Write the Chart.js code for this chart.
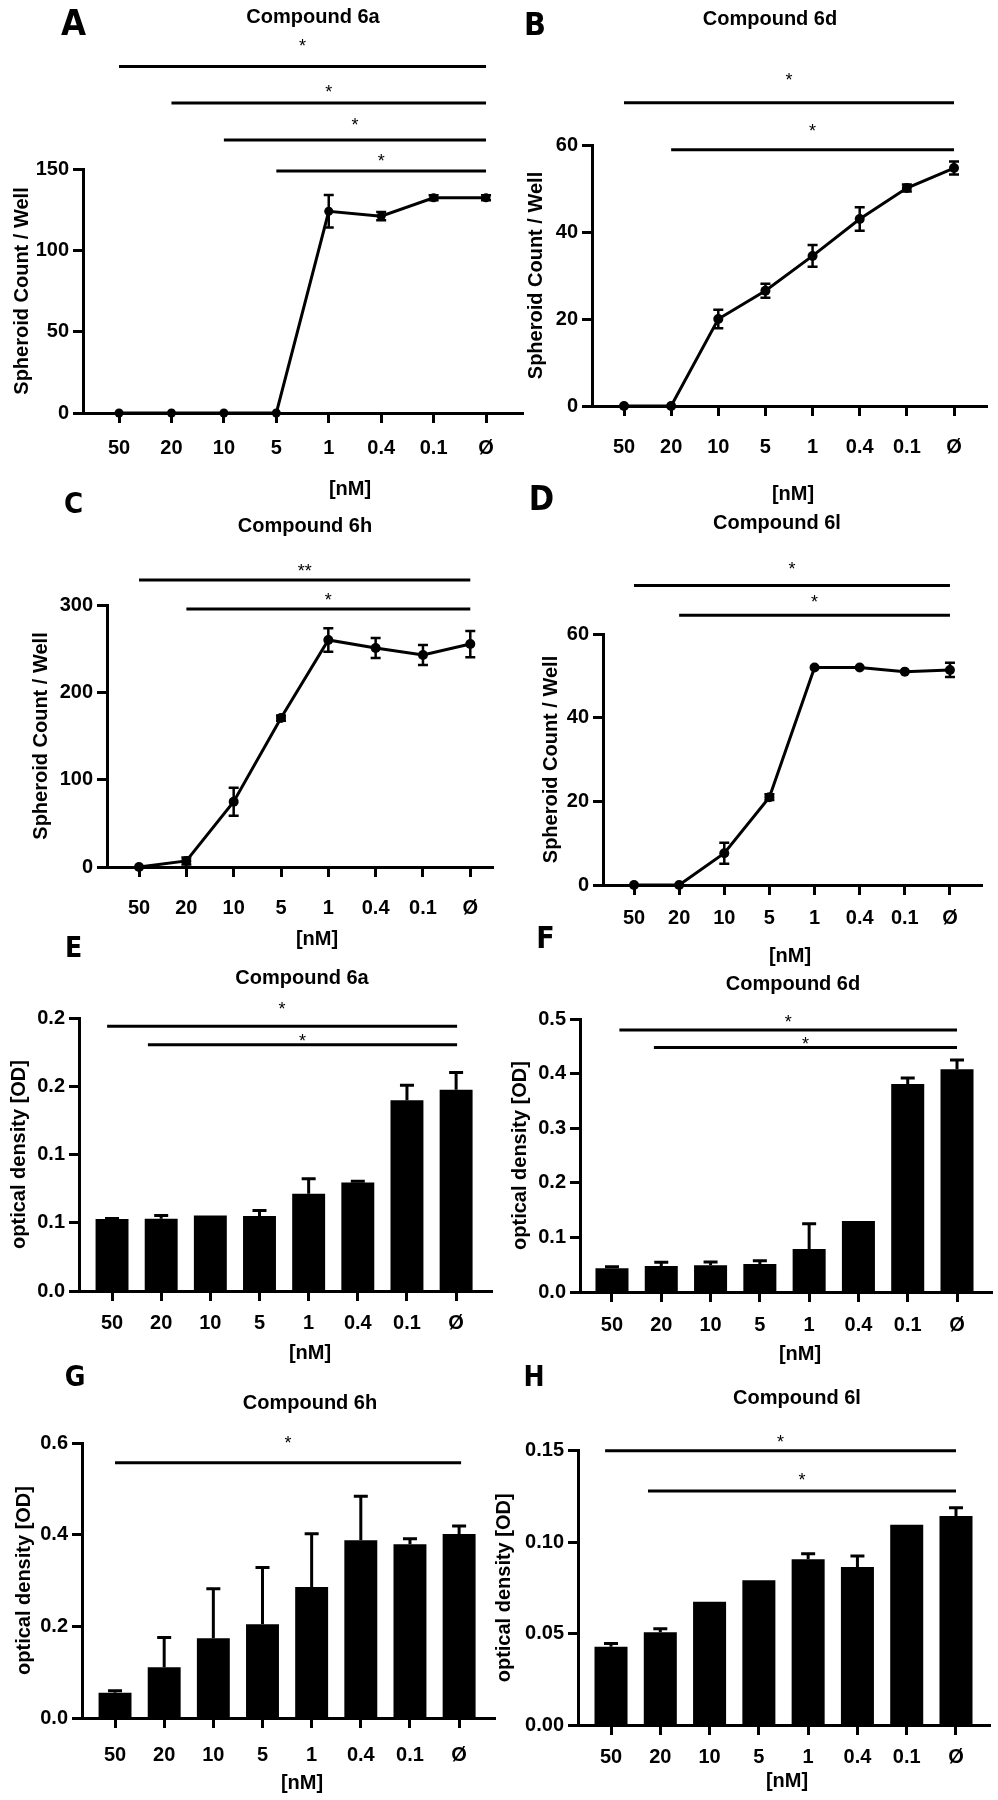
<!DOCTYPE html>
<html>
<head>
<meta charset="utf-8">
<script src="https://cdn.jsdelivr.net/npm/chart.js@4.4.1/dist/chart.umd.min.js"></script>
<style>
  html, body { margin: 0; padding: 0; background: #fff; }
  #figure { position: relative; width: 998px; height: 1800px; overflow: hidden; background: #fff; }
  #figure canvas { position: absolute; }
  .cap {
    position: absolute; transform: translate(-50%, -50%);
    line-height: 1; white-space: nowrap; color: #000;
    font-family: 'Liberation Sans', Arial, sans-serif; font-weight: bold; font-size: 20px;
  }
  .letter { font-family: 'Liberation Sans Narrow', 'DejaVu Sans Condensed', sans-serif; font-stretch: condensed; }
</style>
</head>
<body>
<div id="figure"></div>
<script>
const doses = ['50', '20', '10', '5', '1', '0.4', '0.1', 'Ø'];

// spheroid counts (mean and SD), panels A-D
const countA = [0, 0, 0, 0, 124, 121, 132.3, 132.3];
const countErrA = [0, 0, 0, 0, 10, 2.5, 1.5, 1.5];
const countB = [0, 0, 20, 26.5, 34.5, 43, 50.1, 54.7];
const countErrB = [0, 0, 2.1, 1.6, 2.5, 2.7, 0.8, 1.5];
const countC = [0, 7, 74.8, 170.6, 260, 250.7, 242.7, 255.3];
const countErrC = [0, 4, 16, 3, 13.5, 11.5, 11.5, 15];
const countD = [0, 0, 7.6, 21, 52, 52, 51, 51.4];
const countErrD = [0, 0, 2.5, 0.7, 0, 0, 0, 1.7];

// optical density (mean and SD), panels E-H
const odE = [0.0527, 0.053, 0.0554, 0.055, 0.0713, 0.0794, 0.1397, 0.1475];
const odErrE = [0.0005, 0.0024, 0, 0.004, 0.011, 0.001, 0.011, 0.0125];
const odF = [0.0434, 0.0476, 0.049, 0.0513, 0.0788, 0.13, 0.381, 0.408];
const odErrF = [0.003, 0.0067, 0.006, 0.006, 0.046, 0, 0.011, 0.017];
const odG = [0.0553, 0.1106, 0.174, 0.2044, 0.2858, 0.388, 0.379, 0.4015];
const odErrG = [0.004, 0.065, 0.108, 0.124, 0.116, 0.096, 0.012, 0.0175];
const odH = [0.0428, 0.0507, 0.0674, 0.0791, 0.0906, 0.0864, 0.1095, 0.1143];
const odErrH = [0.0018, 0.002, 0, 0, 0.003, 0.006, 0, 0.0045];

// y ticks and their printed labels
const ticksA = [0, 50, 100, 150];
const ticksB = [0, 20, 40, 60];
const ticksC = [0, 100, 200, 300];
const ticksD = [0, 20, 40, 60];
const ticksE = [0, 0.05, 0.1, 0.15, 0.2];
const tickLabelsE = ['0.0', '0.1', '0.1', '0.2', '0.2'];
const ticksF = [0, 0.1, 0.2, 0.3, 0.4, 0.5];
const tickLabelsF = ['0.0', '0.1', '0.2', '0.3', '0.4', '0.5'];
const ticksG = [0, 0.2, 0.4, 0.6];
const tickLabelsG = ['0.0', '0.2', '0.4', '0.6'];
const ticksH = [0, 0.05, 0.1, 0.15];
const tickLabelsH = ['0.00', '0.05', '0.10', '0.15'];

// significance brackets: [from dose idx, to dose idx, bar level, mark level, mark]
const sigA = [[0, 7, 213, 228, '*'], [1, 7, 190.5, 199.7, '*'], [2, 7, 167.8, 179.5, '*'], [3, 7, 148.7, 157.3, '*']];
const sigB = [[0, 7, 69.7, 75.9, '*'], [1, 7, 58.9, 64.1, '*']];
const sigC = [[0, 7, 328.6, 343.5, '**'], [1, 7, 295.4, 310.3, '*']];
const sigD = [[0, 7, 71.6, 76.5, '*'], [1, 7, 64.5, 68.6, '*']];
const sigE = [[-0.1, 7.02, 0.194, 0.2095, '*'], [0.73, 7.02, 0.1804, 0.186, '*']];
const sigF = [[0.15, 7, 0.48, 0.502, '*'], [0.85, 7, 0.448, 0.4615, '*']];
const sigG = [[0, 7.04, 0.557, 0.609, '*']];
const sigH = [[-0.12, 7, 0.15, 0.157, '*'], [0.75, 7, 0.128, 0.1361, '*']];

const FONT = "'Liberation Sans', Arial, sans-serif";
const fig = document.getElementById('figure');

const errorBars = {
  id: 'errorBars',
  afterDatasetsDraw(chart, args, opts) {
    const { ctx, scales: { x, y } } = chart;
    const pts = chart.data.datasets[0].data;
    const half = opts.cap / 2;
    ctx.save();
    ctx.strokeStyle = '#000';
    ctx.lineWidth = opts.width;
    pts.forEach((p, i) => {
      const e = opts.errors[i];
      if (!e) return;
      const px = x.getPixelForValue(p.x);
      const hi = y.getPixelForValue(p.y + e);
      const lo = y.getPixelForValue(opts.upperOnly ? p.y : p.y - e);
      ctx.beginPath();
      ctx.moveTo(px, lo);
      ctx.lineTo(px, hi);
      ctx.moveTo(px - half, hi);
      ctx.lineTo(px + half, hi);
      if (!opts.upperOnly) {
        ctx.moveTo(px - half, lo);
        ctx.lineTo(px + half, lo);
      }
      ctx.stroke();
    });
    ctx.restore();
  }
};

const sigBars = {
  id: 'sigBars',
  afterDraw(chart, args, opts) {
    const { ctx, scales: { x, y } } = chart;
    ctx.save();
    ctx.strokeStyle = '#000';
    ctx.fillStyle = '#000';
    ctx.lineWidth = 3;
    ctx.font = `18px ${FONT}`;
    ctx.textAlign = 'center';
    ctx.textBaseline = 'alphabetic';
    opts.bars.forEach(([from, to, level, markLevel, mark]) => {
      const x0 = x.getPixelForValue(from);
      const x1 = x.getPixelForValue(to);
      const py = y.getPixelForValue(level);
      ctx.beginPath();
      ctx.moveTo(x0, py);
      ctx.lineTo(x1, py);
      ctx.stroke();
      ctx.fillText(mark, (x0 + x1) / 2, y.getPixelForValue(markLevel) + 10);
    });
    ctx.restore();
  }
};

// layout: box = canvas [x, y, w, h]; area = plot area [left, top, right, bottom] in page px
const panels = [
  { type: 'line', values: countA, errors: countErrA, yTicks: ticksA, yLabels: ticksA.map(String), sig: sigA,
    yTitle: 'Spheroid Count / Well', box: [0, 0, 545, 470], area: [83, 169, 523, 413],
    xRange: [-0.687, 7.705], yTitlePad: 10, xTickPad: 13, pointRadius: 4.5 },
  { type: 'line', values: countB, errors: countErrB, yTicks: ticksB, yLabels: ticksB.map(String), sig: sigB,
    yTitle: 'Spheroid Count / Well', box: [499, 0, 499, 470], area: [592, 145, 987, 406],
    xRange: [-0.679, 7.70], yTitlePad: 25, xTickPad: 19, pointRadius: 5 },
  { type: 'line', values: countC, errors: countErrC, yTicks: ticksC, yLabels: ticksC.map(String), sig: sigC,
    yTitle: 'Spheroid Count / Well', box: [0, 470, 520, 460], area: [107, 605, 493, 867],
    xRange: [-0.677, 7.48], yTitlePad: 29, xTickPad: 19, pointRadius: 5 },
  { type: 'line', values: countD, errors: countErrD, yTicks: ticksD, yLabels: ticksD.map(String), sig: sigD,
    yTitle: 'Spheroid Count / Well', box: [499, 470, 499, 460], area: [603, 634, 982, 885],
    xRange: [-0.687, 7.71], yTitlePad: 40, xTickPad: 11, pointRadius: 5 },
  { type: 'bar', values: odE, errors: odErrE, yTicks: ticksE, yLabels: tickLabelsE, sig: sigE,
    yTitle: 'optical density [OD]', box: [0, 950, 520, 390], area: [79, 1018, 492, 1291],
    xRange: [-0.672, 7.73], yTitlePad: 7, xTickPad: 10 },
  { type: 'bar', values: odF, errors: odErrF, yTicks: ticksF, yLabels: tickLabelsF, sig: sigF,
    yTitle: 'optical density [OD]', box: [499, 950, 499, 390], area: [580, 1019, 992, 1292],
    xRange: [-0.649, 7.71], yTitlePad: 9, xTickPad: 11 },
  { type: 'bar', values: odG, errors: odErrG, yTicks: ticksG, yLabels: tickLabelsG, sig: sigG,
    yTitle: 'optical density [OD]', box: [0, 1390, 520, 400], area: [82, 1443, 495, 1718],
    xRange: [-0.672, 7.73], yTitlePad: 12, xTickPad: 15 },
  { type: 'bar', values: odH, errors: odErrH, yTicks: ticksH, yLabels: tickLabelsH, sig: sigH,
    yTitle: 'optical density [OD]', box: [480, 1390, 518, 400], area: [578, 1450.7, 990, 1725],
    xRange: [-0.67, 7.69], yTitlePad: 12, xTickPad: 10 }
];

// texts outside the plots: [text, centre x, centre y, font size, letter?]
const captions = [
  ['A', 73.5, 23, 36, true], ['B', 535, 23.5, 32, true], ['C', 73.5, 503, 29, true], ['D', 541.5, 497.5, 34, true],
  ['E', 73.5, 948, 28, true], ['F', 545.5, 937.5, 30, true], ['G', 75, 1377, 28, true], ['H', 534, 1377, 28, true],
  ['Compound 6a', 313, 16], ['Compound 6d', 770, 18], ['Compound 6h', 305, 525], ['Compound 6l', 777, 522],
  ['Compound 6a', 302, 977], ['Compound 6d', 793, 983], ['Compound 6h', 310, 1402], ['Compound 6l', 797, 1397],
  ['[nM]', 350, 488], ['[nM]', 793, 493], ['[nM]', 317, 938], ['[nM]', 790, 955],
  ['[nM]', 310, 1352], ['[nM]', 800, 1353], ['[nM]', 302, 1782], ['[nM]', 787, 1780]
];

const buildPanel = (p) => {
  const [bx, by, bw, bh] = p.box;
  const [L, T, R, B] = p.area;
  const isBar = p.type === 'bar';
  const canvas = document.createElement('canvas');
  canvas.width = bw;
  canvas.height = bh;
  canvas.style.left = bx + 'px';
  canvas.style.top = by + 'px';
  canvas.style.width = bw + 'px';
  canvas.style.height = bh + 'px';
  fig.appendChild(canvas);

  const font = { family: FONT, weight: 'bold', size: 20 };
  const tickMarks = { drawOnChartArea: false, drawTicks: true, tickLength: 10, tickWidth: 3, tickColor: '#000', offset: false };

  new Chart(canvas, {
    type: p.type,
    data: {
      datasets: [{
        data: p.values.map((v, i) => ({ x: i, y: v })),
        backgroundColor: '#000',
        borderColor: '#000',
        borderWidth: isBar ? 0 : 3,
        pointRadius: p.pointRadius || 0,
        pointBackgroundColor: '#000',
        pointBorderWidth: 0,
        tension: 0,
        barPercentage: 0.67,
        categoryPercentage: 1,
        clip: false
      }]
    },
    options: {
      responsive: false,
      animation: false,
      events: [],
      layout: { padding: { left: 0, top: T - by, right: bx + bw - R, bottom: 0 } },
      plugins: {
        legend: { display: false },
        tooltip: { enabled: false },
        errorBars: { errors: p.errors, upperOnly: isBar, cap: isBar ? 14 : 10, width: isBar ? 3 : 2.5 },
        sigBars: { bars: p.sig }
      },
      scales: {
        x: {
          type: 'linear', min: p.xRange[0], max: p.xRange[1], offset: false,
          grid: tickMarks,
          border: { display: true, color: '#000', width: 3 },
          ticks: { font, color: '#000', padding: p.xTickPad, maxRotation: 0, autoSkip: false,
                   callback: (v, i) => doses[i] },
          afterBuildTicks: (s) => { s.ticks = doses.map((_, i) => ({ value: i })); },
          afterFit: (s) => { s.height = by + bh - B; }
        },
        y: {
          type: 'linear', min: 0, max: p.yTicks[p.yTicks.length - 1],
          grid: tickMarks,
          border: { display: true, color: '#000', width: 3 },
          ticks: { font, color: '#000', padding: 4, autoSkip: false, callback: (v, i) => p.yLabels[i] },
          title: { display: true, text: p.yTitle, font, color: '#000', padding: { top: p.yTitlePad, bottom: 0 } },
          afterBuildTicks: (s) => { s.ticks = p.yTicks.map((v) => ({ value: v })); },
          afterFit: (s) => { s.width = L - bx; }
        }
      }
    },
    plugins: [errorBars, sigBars]
  });
};

panels.forEach(buildPanel);

captions.forEach(([text, x, y, size, letter]) => {
  const el = document.createElement('div');
  el.className = letter ? 'cap letter' : 'cap';
  el.textContent = text;
  el.style.left = x + 'px';
  el.style.top = y + 'px';
  if (size) el.style.fontSize = size + 'px';
  fig.appendChild(el);
});
</script>
</body>
</html>
